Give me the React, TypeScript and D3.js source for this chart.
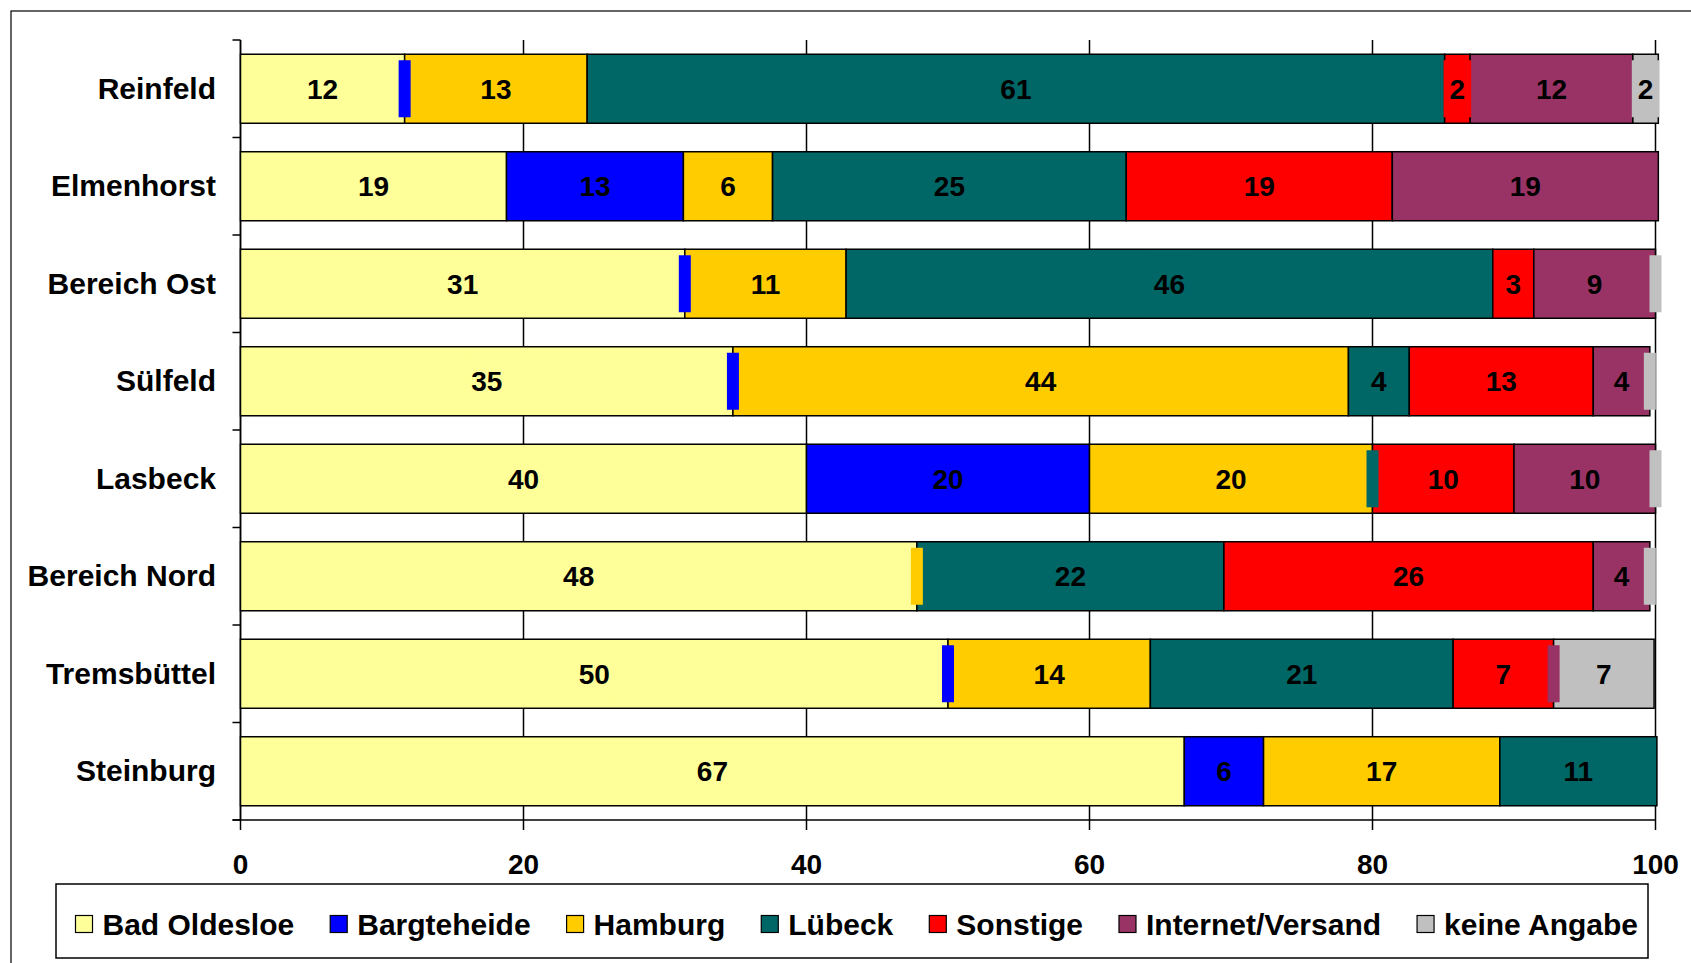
import React from "react";
import * as d3 from "d3";

const categories = ["Reinfeld", "Elmenhorst", "Bereich Ost", "Sülfeld", "Lasbeck", "Bereich Nord", "Tremsbüttel", "Steinburg"];
const seriesNames = ["Bad Oldesloe", "Bargteheide", "Hamburg", "Lübeck", "Sonstige", "Internet/Versand", "keine Angabe"];
const seriesColors = ["#FFFF99", "#0000FF", "#FFCC00", "#006666", "#FF0000", "#993366", "#C0C0C0"];

const badOldesloe = [11.6, 18.8, 31.4, 34.8, 40, 47.8, 50, 66.7];
const bargteheide = [0, 12.5, 0, 0, 20, null, 0, 5.6];
const hamburg = [12.9, 6.3, 11.4, 43.5, 20, 0, 14.3, 16.7];
const luebeck = [60.6, 25.0, 45.7, 4.3, 0, 21.7, 21.4, 11.1];
const sonstige = [1.8, 18.8, 2.9, 13.0, 10, 26.1, 7.1, null];
const internet = [11.5, 18.8, 8.6, 4.0, 10, 4.0, 0, null];
const keineAngabe = [1.8, null, 0, 0, 0, 0, 7.1, null];

const xTicks = [0, 20, 40, 60, 80, 100];

const seriesValues: (number | null)[][] = [badOldesloe, bargteheide, hamburg, luebeck, sonstige, internet, keineAngabe];

const FONT = "'Liberation Sans', Arial, sans-serif";

function measure(text: string, size: number): number {
  const c = document.createElement("canvas").getContext("2d");
  if (!c) return text.length * size * 0.55;
  c.font = `bold ${size}px ${FONT}`;
  return c.measureText(text).width;
}

export default function App() {
  const W = 1691, H = 963;
  const left = 240.5, right = 1655.5, top = 40, bottom = 820;
  const x = d3.scaleLinear().domain([0, 100]).range([left, right]);
  const y = d3.scaleBand<string>().domain(categories).range([top, bottom]).paddingInner(0.292).paddingOuter(0.146);
  const bw = y.bandwidth();
  const step = y.step();

  const segs: { s: number; c: number; x0: number; x1: number; v: number }[] = [];
  categories.forEach((cat, ci) => {
    let acc = 0;
    seriesValues.forEach((arr, si) => {
      const v = arr[ci];
      if (v === null || v === undefined) return;
      segs.push({ s: si, c: ci, x0: acc, x1: acc + v, v });
      acc += v;
    });
  });

  const labelFont = 28;
  const legendFont = 30;
  const legItems: { name: string; color: string; sx: number; tx: number }[] = [];
  let lx = 75.5;
  seriesNames.forEach((n, i) => {
    legItems.push({ name: n, color: seriesColors[i], sx: lx, tx: lx + 27 });
    lx = lx + 27 + measure(n, legendFont) + 36;
  });
  const legY = 924;

  return (
    <svg width={W} height={H} style={{ position: "absolute", left: 0, top: 0 }} fontFamily={FONT}>
      <rect x={0} y={0} width={W} height={H} fill="#fff" />
      <rect x={11} y={11} width={W + 20} height={H + 20} fill="none" stroke="#000" strokeWidth={1.2} />
      {xTicks.map((t) => (
        <line key={"g" + t} x1={x(t)} x2={x(t)} y1={top} y2={bottom + 10} stroke="#000" strokeWidth={1.5} />
      ))}
      <line x1={left} x2={left} y1={top} y2={bottom} stroke="#000" strokeWidth={1.5} />
      {d3.range(categories.length + 1).map((i) => (
        <line key={"ct" + i} x1={left - 8} x2={left} y1={top + i * step} y2={top + i * step} stroke="#000" strokeWidth={1.5} />
      ))}
      <line x1={left - 8} x2={right} y1={bottom} y2={bottom} stroke="#000" strokeWidth={1.5} />
      {segs.map((d, i) =>
        d.v > 0 ? (
          <rect
            key={"b" + i}
            x={x(d.x0)}
            y={y(categories[d.c])!}
            width={x(d.x1) - x(d.x0)}
            height={bw}
            fill={seriesColors[d.s]}
            stroke="#000"
            strokeWidth={1.5}
          />
        ) : null
      )}
      {segs.map((d, i) => {
        const cx = (x(d.x0) + x(d.x1)) / 2;
        const cy = y(categories[d.c])! + bw / 2;
        const txt = d.v > 0 ? String(Math.round(d.v)) : "";
        const w = txt ? measure(txt, labelFont) + 12 : 12;
        const h = 57;
        return (
          <g key={"l" + i}>
            <rect x={cx - w / 2} y={cy - h / 2} width={w} height={h} fill={seriesColors[d.s]} />
            {txt && (
              <text x={cx} y={cy + 10} textAnchor="middle" fontSize={labelFont} fontWeight="bold" fill="#000">
                {txt}
              </text>
            )}
          </g>
        );
      })}
      {categories.map((c) => (
        <text key={"cl" + c} x={216} y={y(c)! + bw / 2 + 10} textAnchor="end" fontSize={30} fontWeight="bold" fill="#000">
          {c}
        </text>
      ))}
      {xTicks.map((t) => (
        <text key={"xl" + t} x={x(t)} y={874} textAnchor="middle" fontSize={28} fontWeight="bold" fill="#000">
          {t}
        </text>
      ))}
      <rect x={56} y={884} width={1592} height={74} fill="#fff" stroke="#000" strokeWidth={1.5} />
      {legItems.map((it) => (
        <g key={"lg" + it.name}>
          <rect x={it.sx} y={legY - 8.5} width={17} height={17} fill={it.color} stroke="#000" strokeWidth={1.2} />
          <text x={it.tx} y={legY + 10.5} fontSize={legendFont} fontWeight="bold" fill="#000">
            {it.name}
          </text>
        </g>
      ))}
    </svg>
  );
}
